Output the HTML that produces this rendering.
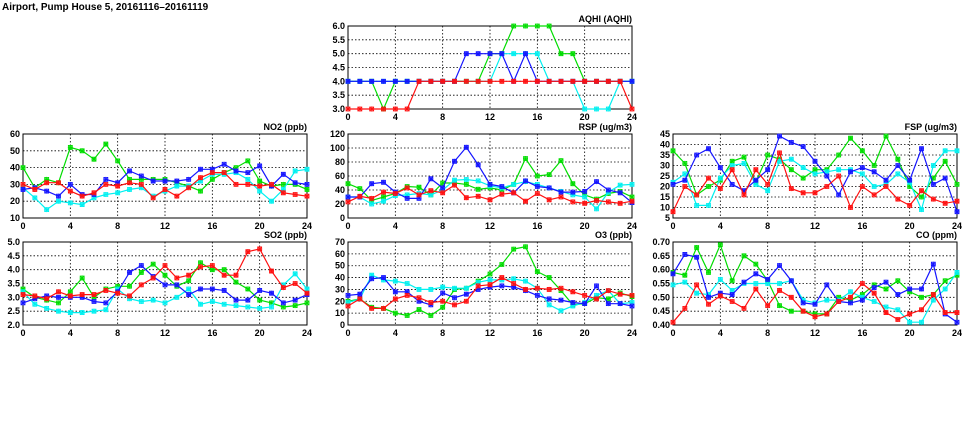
<!DOCTYPE html>
<html><head><meta charset="utf-8">
<style>
body{margin:0;background:#fff;}
svg{display:block;font-family:"Liberation Sans",sans-serif;font-weight:bold;}
</style></head>
<body>
<svg id="chart" width="975" height="447" viewBox="0 0 975 447">
<text x="2" y="10" font-size="10">Airport, Pump House 5, 20161116–20161119</text>
</svg>
<script>
const hours = [0,1,2,3,4,5,6,7,8,9,10,11,12,13,14,15,16,17,18,19,20,21,22,23,24];
const xTicks = [0,4,8,12,16,20,24];
const seriesNames = ["green","blue","cyan","red"];
const seriesColors = {green:"#00dd00",blue:"#1414ff",cyan:"#00f0f0",red:"#ff1010"};
const drawOrder = ["green","cyan","blue","red"];

const aqhiGreen=[4,4,4,3,4,4,4,4,4,4,4,4,5,5,6,6,6,6,5,5,4,4,4,4,4];
const aqhiBlue=[4,4,4,4,4,4,4,4,4,4,5,5,5,5,4,5,4,4,4,4,4,4,4,4,4];
const aqhiCyan=[4,4,4,4,4,4,4,4,4,4,4,4,4,5,5,5,5,4,4,4,3,3,3,4,4];
const aqhiRed=[3,3,3,3,3,3,4,4,4,4,4,4,4,4,4,4,4,4,4,4,4,4,4,4,3];
const aqhiTicks=[3.0,3.5,4.0,4.5,5.0,5.5,6.0];

const no2Green=[40,28,33,31,52,50,45,54,44,33,33,33,33,31,29,26,33,37,40,44,32,29,30,30,27];
const no2Blue=[27,28,26,23,30,24,24,33,31,38,35,32,32,32,33,39,39,42,38,37,41,29,36,31,30];
const no2Cyan=[28,22,15,20,19,18,22,24,25,27,28,23,26,29,29,32,36,36,37,33,26,20,27,38,39];
const no2Red=[30,27,31,31,26,23,25,30,29,31,30,22,27,23,28,34,37,37,30,30,29,30,25,24,23];
const no2Ticks=[10,20,30,40,50,60];

const rspGreen=[49,42,25,30,35,45,44,33,50,50,48,41,43,40,48,85,60,62,82,49,33,27,35,38,30];
const rspBlue=[30,30,49,51,37,28,28,56,43,81,101,76,48,45,36,53,45,43,37,37,38,52,40,36,22];
const rspCyan=[30,30,20,24,32,33,35,33,40,54,55,53,46,43,48,52,48,43,38,33,30,13,37,47,48];
const rspRed=[23,31,28,37,35,43,33,39,36,47,29,31,26,34,36,24,35,26,30,23,21,25,23,21,24];
const rspTicks=[0,20,40,60,80,100,120];

const fspGreen=[37,31,16,20,23,32,34,22,35,33,28,24,28,28,35,43,37,30,44,33,20,15,24,32,21];
const fspBlue=[21,23,35,38,29,21,18,23,28,44,41,39,32,25,16,27,29,27,23,30,23,38,21,24,8];
const fspCyan=[22,26,11,11,24,30,31,21,18,32,33,29,26,27,28,28,26,20,21,26,22,9,30,37,37];
const fspRed=[8,20,16,24,19,28,16,28,21,36,19,17,17,20,25,10,20,16,20,14,11,18,14,12,13];
const fspTicks=[5,10,15,20,25,30,35,40,45];

const so2Green=[3.3,3.0,2.9,2.8,3.2,3.7,3.0,3.3,3.4,3.4,3.9,4.2,3.8,3.4,3.6,4.25,4.0,4.0,3.55,3.3,2.9,2.8,2.65,2.7,2.8];
const so2Blue=[2.8,2.95,3.05,3.0,3.0,3.0,2.85,2.8,3.2,3.9,4.15,3.75,3.45,3.45,3.1,3.3,3.3,3.25,2.9,2.9,3.25,3.15,2.8,2.9,3.1];
const so2Cyan=[3.2,2.75,2.6,2.5,2.45,2.45,2.5,2.55,3.3,2.95,2.85,2.9,2.8,3.0,3.3,2.75,2.85,2.75,2.7,2.65,2.6,2.65,3.45,3.85,3.3];
const so2Red=[3.1,3.05,2.95,3.2,3.05,3.1,3.1,3.25,3.15,3.05,3.45,3.7,4.15,3.7,3.8,4.1,4.15,3.8,3.8,4.65,4.75,3.95,3.35,3.5,3.15];
const so2Ticks=[2.0,2.5,3.0,3.5,4.0,4.5,5.0];

const o3Green=[20,22,15,14,10,8,13,8,15,30,31,37,43,51,64,66,45,40,29,17,18,23,22,27,24];
const o3Blue=[25,26,39,40,28,28,20,17,27,23,26,30,32,33,32,29,25,22,21,19,18,33,18,18,16];
const o3Cyan=[19,22,42,38,37,35,30,30,32,31,31,36,38,38,39,37,31,17,12,16,19,25,29,18,19];
const o3Red=[16,22,14,14,22,25,23,19,20,17,20,33,34,40,35,30,31,30,31,28,25,22,29,26,25];
const o3Ticks=[0,10,20,30,40,50,60,70];

const coGreen=[0.59,0.58,0.68,0.59,0.69,0.56,0.65,0.62,0.56,0.47,0.45,0.45,0.44,0.44,0.50,0.49,0.51,0.545,0.53,0.56,0.52,0.50,0.51,0.56,0.58];
const coBlue=[0.585,0.655,0.645,0.50,0.515,0.51,0.555,0.585,0.565,0.615,0.56,0.48,0.475,0.545,0.485,0.48,0.49,0.535,0.555,0.51,0.53,0.53,0.62,0.44,0.41];
const coCyan=[0.545,0.555,0.515,0.51,0.565,0.525,0.55,0.55,0.55,0.55,0.56,0.49,0.48,0.49,0.49,0.52,0.50,0.485,0.465,0.455,0.41,0.41,0.49,0.53,0.59];
const coRed=[0.41,0.46,0.545,0.475,0.505,0.485,0.46,0.53,0.47,0.525,0.50,0.45,0.43,0.44,0.485,0.50,0.55,0.515,0.445,0.42,0.44,0.455,0.51,0.445,0.445];
const coTicks=[0.40,0.45,0.50,0.55,0.60,0.65,0.70];

const panels=[
 {id:"aqhi",title:"AQHI (AQHI)",x:348,y:26,w:284,h:83,ticks:aqhiTicks,dec:1,data:{green:aqhiGreen,blue:aqhiBlue,cyan:aqhiCyan,red:aqhiRed}},
 {id:"no2",title:"NO2 (ppb)",x:23,y:134,w:284,h:84,ticks:no2Ticks,dec:0,data:{green:no2Green,blue:no2Blue,cyan:no2Cyan,red:no2Red}},
 {id:"rsp",title:"RSP (ug/m3)",x:348,y:134,w:284,h:84,ticks:rspTicks,dec:0,data:{green:rspGreen,blue:rspBlue,cyan:rspCyan,red:rspRed}},
 {id:"fsp",title:"FSP (ug/m3)",x:673,y:134,w:284,h:84,ticks:fspTicks,dec:0,data:{green:fspGreen,blue:fspBlue,cyan:fspCyan,red:fspRed}},
 {id:"so2",title:"SO2 (ppb)",x:23,y:242,w:284,h:83,ticks:so2Ticks,dec:1,data:{green:so2Green,blue:so2Blue,cyan:so2Cyan,red:so2Red}},
 {id:"o3",title:"O3 (ppb)",x:348,y:242,w:284,h:83,ticks:o3Ticks,dec:0,data:{green:o3Green,blue:o3Blue,cyan:o3Cyan,red:o3Red}},
 {id:"co",title:"CO (ppm)",x:673,y:242,w:284,h:83,ticks:coTicks,dec:2,data:{green:coGreen,blue:coBlue,cyan:coCyan,red:coRed}}
];

const NS="http://www.w3.org/2000/svg";
const svg=document.getElementById("chart");
function mk(tag,attrs,parent){const e=document.createElementNS(NS,tag);for(const k in attrs)e.setAttribute(k,attrs[k]);(parent||svg).appendChild(e);return e;}

panels.forEach(p=>{
  const g=mk("g",{});
  
  
  const ymin=p.ticks[0], ymax=p.ticks[p.ticks.length-1];
  const xs=v=>p.x+v/24*p.w;
  const ys=v=>p.y+p.h-(v-ymin)/(ymax-ymin)*p.h;
  p.ticks.forEach(t=>{
    const yy=ys(t);
    if(t!==ymin && t!==ymax){
      const l=mk("line",{x1:p.x,x2:p.x+p.w,y1:yy,y2:yy,stroke:"#000","stroke-width":0.8,"stroke-dasharray":"1.5,2"},g);
      
      
    }
    const tl=mk("text",{x:p.x-3,y:yy+3,"font-size":9,"text-anchor":"end"},g);
    tl.textContent=t.toFixed(p.dec);
    
    
  });
  xTicks.forEach(t=>{
    const xx=xs(t);
    if(t!==0 && t!==24){
      const l=mk("line",{x1:xx,x2:xx,y1:p.y,y2:p.y+p.h,stroke:"#000","stroke-width":0.8,"stroke-dasharray":"1.5,2"},g);
      
      
    }
    const tl=mk("text",{x:xx,y:p.y+p.h+11,"font-size":9,"text-anchor":"middle"},g);
    tl.textContent=String(t);
    
    
  });
  const fr=mk("rect",{x:p.x,y:p.y,width:p.w,height:p.h,fill:"none",stroke:"#000","stroke-width":1},g);
  
  
  const tt=mk("text",{x:p.x+p.w,y:p.y-4,"font-size":9,"text-anchor":"end"},g);
  tt.textContent=p.title;
  
  
  drawOrder.forEach(s=>{
    const vals=p.data[s], col=seriesColors[s];
    const pts=vals.map((v,i)=>xs(hours[i]).toFixed(1)+","+ys(v).toFixed(1)).join(" ");
    const pl=mk("polyline",{points:pts,fill:"none",stroke:col,"stroke-width":1.2},g);
    
    
    vals.forEach((v,i)=>{
      const cx=xs(hours[i]), cy=ys(v);
      const m=mk("path",{d:`M${cx-2},${cy-2}h4v4h-4z M${cx-2},${cy-2}l4,4 M${cx+2},${cy-2}l-4,4 M${cx},${cy-2.5}v5 M${cx-2.5},${cy}h5`,fill:"none",stroke:col,"stroke-width":0.8},g);
      
      
    });
  });
});
</script>
</body></html>
